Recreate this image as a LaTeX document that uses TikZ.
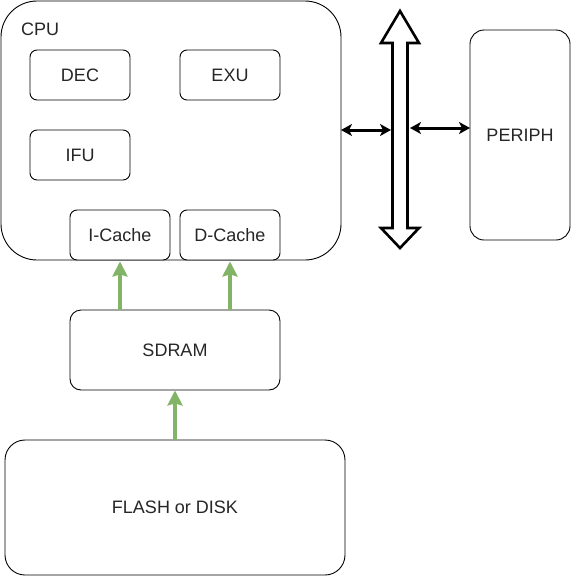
\documentclass[tikz,border=0pt]{standalone}
\usepackage{fontspec}
\setmainfont{Liberation Sans}
\usetikzlibrary{arrows.meta,positioning}
\definecolor{grn}{HTML}{82B366}
\begin{document}
\begin{tikzpicture}[x=1pt,y=-1pt,
  box/.style={draw=black,line width=0.9pt,fill=white,font=\fontsize{18}{21}\selectfont,text=black!85,inner sep=0pt},
  blk/.style={draw=black,line width=3pt,{Stealth[length=11pt,width=12pt,inset=3pt]}-{Stealth[length=11pt,width=12pt,inset=3pt]}},
  gre/.style={draw=grn,line width=3.4pt,-{Stealth[length=15pt,width=15pt,inset=2pt]}}]
\useasboundingbox (0,0) rectangle (571,576);
% CPU
\node[box,rounded corners=36pt,minimum width=340pt,minimum height=259pt] (cpu) at (171,130.5) {};
\node[font=\fontsize{18}{21}\selectfont,text=black!85,anchor=west,inner sep=0pt] (cpul) at (21,29) {CPU};
\node[box,rounded corners=7pt,minimum width=100pt,minimum height=50pt] (dec) at (80,75) {DEC};
\node[box,rounded corners=7pt,minimum width=100pt,minimum height=50pt] (exu) at (230,75) {EXU};
\node[box,rounded corners=7pt,minimum width=100pt,minimum height=50pt] (ifu) at (80,155) {IFU};
\node[box,rounded corners=7pt,minimum width=100pt,minimum height=50pt] (ic) at (120,235) {I-Cache};
\node[box,rounded corners=7pt,minimum width=100pt,minimum height=50pt] (dc) at (230,235) {D-Cache};
% SDRAM
\node[box,rounded corners=11pt,minimum width=210pt,minimum height=80pt] (sd) at (175,350) {SDRAM};
% FLASH
\node[box,rounded corners=20pt,minimum width=340pt,minimum height=135pt] (fl) at (175,507.5) {FLASH or DISK};
% PERIPH
\node[box,rounded corners=14pt,minimum width=100pt,minimum height=210pt] (per) at (520,135) {PERIPH};
% bus
\draw[line width=2.6pt,fill=white,line join=miter] (400,11) -- (419,43) -- (407.5,43) -- (407.5,228) -- (419,228) -- (400,248) -- (381,228) -- (392.5,228) -- (392.5,43) -- (381,43) -- cycle;
\coordinate (busl) at (391,130);
\coordinate (busr) at (410,128);
\coordinate (cpur) at (341,130);
\coordinate (perl) at (470,128);
\draw[blk] (cpur) -- (busl);
\draw[blk] (busr) -- (perl);
% green arrows
\draw[gre] (ic.south |- sd.north) -- ([yshift=-1pt]ic.south);
\draw[gre] (dc.south |- sd.north) -- ([yshift=-1pt]dc.south);
\draw[gre] (fl.north) -- (sd.south);
\end{tikzpicture}
\end{document}
